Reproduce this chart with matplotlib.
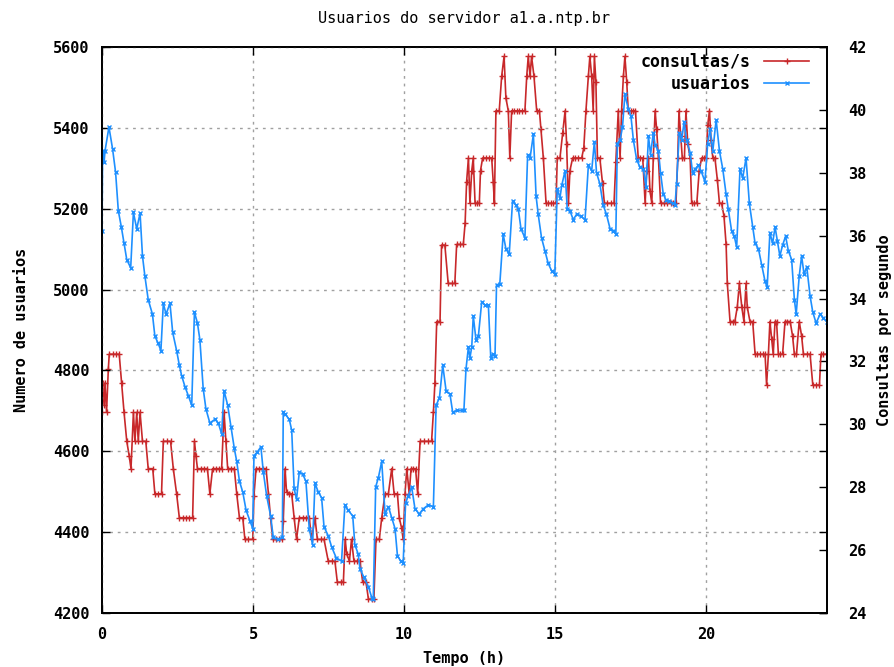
import matplotlib
matplotlib.use("Agg")
import matplotlib.pyplot as plt
from matplotlib.lines import Line2D

# ---------------- data ----------------
t_usuarios = [0.00,0.02,0.07,0.10,0.23,0.35,0.45,0.54,0.64,0.73,0.82,0.95,1.04,1.15,1.26,1.34,1.42,1.53,1.67,1.75,1.86,1.95,
    2.03,2.12,2.25,2.34,2.47,2.56,2.64,2.75,2.86,2.97,3.06,3.16,3.24,3.35,3.44,3.57,3.74,3.85,3.96,4.04,4.16,4.27,4.38,4.46,
    4.55,4.66,4.77,4.90,4.99,5.03,5.14,5.26,5.34,5.45,5.58,5.67,5.84,5.97,
    6.00,6.06,6.20,6.28,6.36,6.44,6.53,6.64,6.75,6.86,6.97,7.05,7.16,7.27,7.35,7.49,7.60,7.75,7.93,8.04,8.15,8.30,8.37,8.48,
    8.54,8.67,8.82,8.93,8.98,9.06,9.15,9.26,9.37,9.48,9.59,9.70,9.78,9.89,9.97,10.05,10.14,10.25,10.36,10.50,10.64,10.80,
    10.97,11.06,11.17,11.28,11.39,11.52,11.61,11.74,11.91,11.98,
    12.05,12.13,12.18,12.24,12.29,12.38,12.46,12.57,12.68,12.79,12.87,12.93,13.01,13.06,13.17,13.28,13.37,13.48,13.59,13.70,
    13.78,13.87,14.00,14.09,14.17,14.28,14.37,14.44,14.55,14.66,14.77,14.88,14.99,15.07,15.16,15.22,15.33,15.40,15.49,15.60,
    15.71,15.84,15.99,16.10,16.21,16.30,16.37,16.48,16.59,16.70,16.82,16.93,17.01,17.06,17.15,17.23,17.31,17.42,17.51,17.59,
    17.70,
    17.81,17.92,18.01,18.09,18.16,18.25,18.31,18.42,18.49,18.58,18.67,18.78,18.89,18.97,19.02,19.11,19.19,19.27,19.35,19.47,
    19.55,19.63,19.74,19.83,19.96,20.05,20.13,20.22,20.33,20.44,20.55,20.66,20.73,20.84,20.93,21.01,21.12,21.21,21.32,21.43,
    21.54,21.62,21.73,21.84,21.95,22.02,22.11,22.20,22.28,22.36,22.44,22.53,22.63,22.72,22.83,22.92,22.98,23.08,23.16,23.24,
    23.33,23.44,23.53,23.64,23.77,23.88,23.99]
usuarios = [5146,5343,5316,5343,5402,5348,5290,5195,5155,5114,5074,5054,5191,5150,5189,5083,5033,4975,4939,4885,4867,4849,
    4966,4939,4966,4894,4849,4813,4786,4759,4737,4714,4944,4917,4876,4755,4705,4670,4679,4670,4643,4750,4714,4661,4607,4575,
    4526,4499,4454,4427,4409,4589,4598,4611,4549,4490,4441,4387,4382,4387,
    4696,4692,4679,4652,4508,4481,4548,4544,4526,4409,4369,4521,4499,4485,4413,4391,4364,4337,4328,4467,4454,4440,4369,4346,
    4310,4288,4265,4238,4234,4512,4535,4575,4445,4463,4436,4409,4342,4328,4324,4472,4490,4512,4458,4445,4458,4467,
    4463,4714,4732,4813,4750,4741,4696,4701,4701,4701,
    4804,4858,4831,4858,4935,4876,4885,4970,4961,4961,4831,4840,4836,5011,5015,5137,5101,5087,5218,5209,
    5200,5150,5128,5334,5325,5384,5231,5186,5128,5096,5065,5047,5038,5249,5227,5258,5294,5200,5195,5173,
    5186,5182,5173,5307,5294,5366,5289,5262,5209,5186,5150,5146,5137,5361,5370,5402,5483,5447,5429,5370,
    5321,
    5303,5298,5254,5379,5334,5388,5357,5343,5289,5236,5222,5218,5213,5209,5262,5388,5370,5415,5370,5339,
    5289,5298,5307,5294,5267,5361,5397,5343,5420,5343,5298,5236,5200,5146,5132,5105,5298,5276,5325,5213,
    5155,5114,5101,5060,5020,5006,5141,5114,5155,5119,5083,5110,5132,5096,5074,4975,4939,5033,5083,5038,
    5056,4984,4944,4917,4939,4930,4921]

t_consultas = [0.00,0.02,0.07,0.10,0.15,0.21,0.24,0.35,0.46,0.57,0.65,0.73,0.82,0.90,0.96,1.04,1.09,1.15,1.20,1.26,1.34,1.45,
    1.53,1.68,1.75,1.86,1.97,2.03,2.14,2.27,2.36,2.47,2.56,2.67,2.78,2.89,3.00,3.06,3.11,3.16,3.27,3.38,3.49,3.57,3.66,3.77,
    3.88,3.96,4.04,4.10,4.16,4.27,4.38,4.46,4.55,4.66,4.73,4.84,4.99,5.03,5.10,5.21,5.32,5.43,5.51,5.58,5.65,5.76,5.87,5.97,
    6.00,6.06,6.11,6.20,6.28,6.36,6.44,6.53,6.64,6.75,6.86,6.94,7.05,7.13,7.24,7.35,7.49,7.60,7.71,7.79,7.90,7.99,8.05,8.10,
    8.19,8.26,8.34,8.43,8.54,8.63,8.74,8.82,8.93,9.00,9.07,9.18,9.26,9.37,9.48,9.59,9.67,9.78,9.84,9.92,9.97,10.03,10.09,
    10.17,10.23,10.31,10.38,10.45,10.53,10.66,10.80,10.91,10.97,11.02,11.08,11.19,11.24,11.35,11.46,11.57,11.68,11.74,11.85,
    11.96,
    12.02,12.07,12.13,12.18,12.24,12.29,12.35,12.42,12.49,12.53,12.60,12.71,12.82,12.90,12.95,12.99,13.04,13.15,13.23,13.31,
    13.37,13.45,13.50,13.56,13.64,13.73,13.81,13.89,14.00,14.06,14.11,14.17,14.22,14.30,14.39,14.48,14.53,14.61,14.70,14.77,
    14.85,14.94,15.03,15.07,15.16,15.25,15.33,15.38,15.44,15.49,15.58,15.66,15.77,15.88,15.95,16.02,16.10,16.15,16.21,16.26,
    16.30,16.35,16.40,16.48,16.57,16.63,16.73,16.84,16.95,17.01,17.09,17.15,17.20,17.26,17.31,17.37,17.42,17.50,17.59,17.66,
    17.75,
    17.81,17.90,17.98,18.03,18.09,18.14,18.20,18.25,18.31,18.36,18.42,18.49,18.60,18.71,18.83,18.91,19.00,19.06,19.10,19.16,
    19.21,19.28,19.33,19.39,19.47,19.52,19.60,19.69,19.77,19.85,19.93,20.00,20.05,20.11,20.16,20.22,20.29,20.37,20.44,20.51,
    20.59,20.66,20.70,20.79,20.88,20.95,21.03,21.10,21.18,21.25,21.32,21.36,21.45,21.54,21.62,21.69,21.78,21.87,21.95,22.00,
    22.06,22.11,22.17,22.22,22.28,22.33,22.39,22.44,22.53,22.61,22.69,22.78,22.86,22.92,22.99,23.08,23.16,23.22,23.33,23.44,
    23.53,23.64,23.75,23.80,23.88,23.99]
consultas = [30.38,31.31,30.62,31.31,30.38,31.77,32.23,32.23,32.23,32.23,31.31,30.38,29.46,29.00,28.59,30.38,29.46,30.38,29.46,30.38,29.46,29.46,
    28.59,28.59,27.79,27.79,27.79,29.46,29.46,29.46,28.59,27.79,27.03,27.03,27.03,27.03,27.03,29.46,29.00,28.59,28.59,28.59,28.59,27.79,28.59,28.59,
    28.59,28.59,30.38,29.46,28.59,28.59,28.59,27.79,27.03,27.03,26.34,26.34,26.34,27.73,28.59,28.59,28.59,28.59,27.79,27.03,26.34,26.34,26.34,26.34,
    26.92,28.59,27.84,27.79,27.79,27.03,26.34,27.03,27.03,27.03,27.03,26.34,27.03,26.34,26.34,26.34,25.65,25.65,25.65,24.98,24.98,24.98,26.34,25.88,
    25.65,26.34,25.65,25.65,25.65,24.98,24.98,24.44,24.44,24.44,26.34,26.34,27.03,27.79,27.79,28.59,27.79,27.79,27.03,26.69,26.34,27.79,28.59,
    27.79,28.59,28.59,28.59,27.79,29.46,29.46,29.46,29.46,30.38,31.31,33.27,33.27,35.70,35.70,34.48,34.48,34.48,35.72,35.72,
    35.72,
    36.39,37.72,38.47,37.03,38.07,38.47,37.03,37.03,37.03,38.07,38.47,38.47,38.47,38.47,37.72,37.03,39.97,39.97,41.07,41.70,
    40.38,39.97,38.47,39.97,39.97,39.97,39.97,39.97,39.97,41.07,41.70,41.07,41.70,41.07,39.97,39.97,39.39,38.47,37.03,37.03,
    37.03,37.03,37.03,38.47,38.47,39.28,39.97,38.93,37.03,38.07,38.47,38.47,38.47,38.47,38.80,39.97,41.07,41.70,41.07,39.97,
    41.70,40.90,38.47,38.47,37.66,37.03,37.03,37.03,37.03,38.35,39.97,38.47,39.97,41.07,41.70,40.90,39.97,39.97,39.97,39.97,
    38.47,
    38.47,38.47,37.03,38.07,38.47,37.43,37.03,38.47,39.97,39.39,38.47,37.03,37.03,37.03,37.03,37.03,37.03,38.47,39.97,39.16,
    38.47,38.47,39.97,38.93,38.47,37.03,37.03,37.03,38.07,38.47,38.47,38.47,39.51,39.97,39.05,38.47,38.47,37.78,37.03,37.03,
    36.62,35.72,34.48,33.27,33.27,33.27,33.73,34.48,33.73,33.27,34.48,33.73,33.27,33.27,32.23,32.23,32.23,32.23,32.23,31.25,
    32.23,33.27,32.70,32.23,33.27,33.27,32.23,32.23,32.23,33.27,33.27,33.27,32.81,32.23,32.23,33.27,32.81,32.23,32.23,32.23,
    31.25,31.25,31.25,32.23,32.23,32.23]

title = "Usuarios do servidor a1.a.ntp.br"
xticks = [0, 5, 10, 15, 20]
yticks = [4200, 4400, 4600, 4800, 5000, 5200, 5400, 5600]
y2ticks = [24, 26, 28, 30, 32, 34, 36, 38, 40, 42]

# ---------------- style ----------------
FONT = "DejaVu Sans Mono"
FS = 11
RED = "#c8282a"
BLUE = "#1e90ff"

fig = plt.figure(figsize=(8.94, 6.67), dpi=100)
ax = fig.add_axes([102/894, 1-613/667, 725/894, 566/667])
ax2 = ax.twinx()

l2, = ax2.plot(t_consultas, consultas, color=RED, lw=1.2, marker='+', ms=5, mew=1.0)
l1, = ax.plot(t_usuarios, usuarios, color=BLUE, lw=1.2, marker='x', ms=3.5, mew=1.0)

ax.set_zorder(ax2.get_zorder() + 1)
ax.patch.set_visible(False)

ax.set_xlim(0, 24)
ax.set_ylim(4200, 5600)
ax2.set_ylim(24, 42)
ax.set_xticks(xticks)
ax.set_yticks(yticks)
ax2.set_yticks(y2ticks)

ax.grid(True, color="#a0a0a0", lw=1.0, linestyle=(0, (2, 3.5)))

ax.tick_params(axis='both', direction='in', length=6, width=1.0, top=True, right=True,
               labelsize=FS)
ax.tick_params(axis='y', pad=9)
ax.tick_params(axis='x', pad=10)
ax2.tick_params(axis='y', direction='in', length=6, width=1.0, labelsize=FS, pad=15)

for lab in ax.get_xticklabels() + ax.get_yticklabels() + ax2.get_yticklabels():
    lab.set_fontfamily(FONT)
    lab.set_fontweight('bold')

for a in (ax, ax2):
    for s in a.spines.values():
        s.set_linewidth(1.3)
        s.set_color('black')

fig.text(464/894, 1-18/667, title, ha='center', va='center', fontsize=FS, family=FONT)
fig.text(464/894, 1-658/667, "Tempo (h)", ha='center', va='center', fontsize=FS, family=FONT, weight='bold')
fig.text(22/894, 1-330/667, "Numero de usuarios", ha='center', va='center', rotation=90,
         fontsize=FS, family=FONT, weight='bold')
fig.text(885/894, 1-330/667, "Consultas por segundo", ha='center', va='center', rotation=90,
         fontsize=FS, family=FONT, weight='bold')

h1 = Line2D([], [], color=RED, lw=1.2, marker='+', ms=5, mew=1.0)
h2 = Line2D([], [], color=BLUE, lw=1.2, marker='x', ms=3.5, mew=1.0)
leg = ax.legend([h1, h2], ["consultas/s", "usuarios"], loc='upper right',
                bbox_to_anchor=((809-102)/725, (613-53)/566), borderpad=0, borderaxespad=0,
                frameon=False, markerfirst=False, numpoints=1, handlelength=2.7,
                handletextpad=0.8, labelspacing=0.25,
                prop={'family': FONT, 'size': FS + 1, 'weight': 'bold'})

fig.savefig("out.png", dpi=100)
